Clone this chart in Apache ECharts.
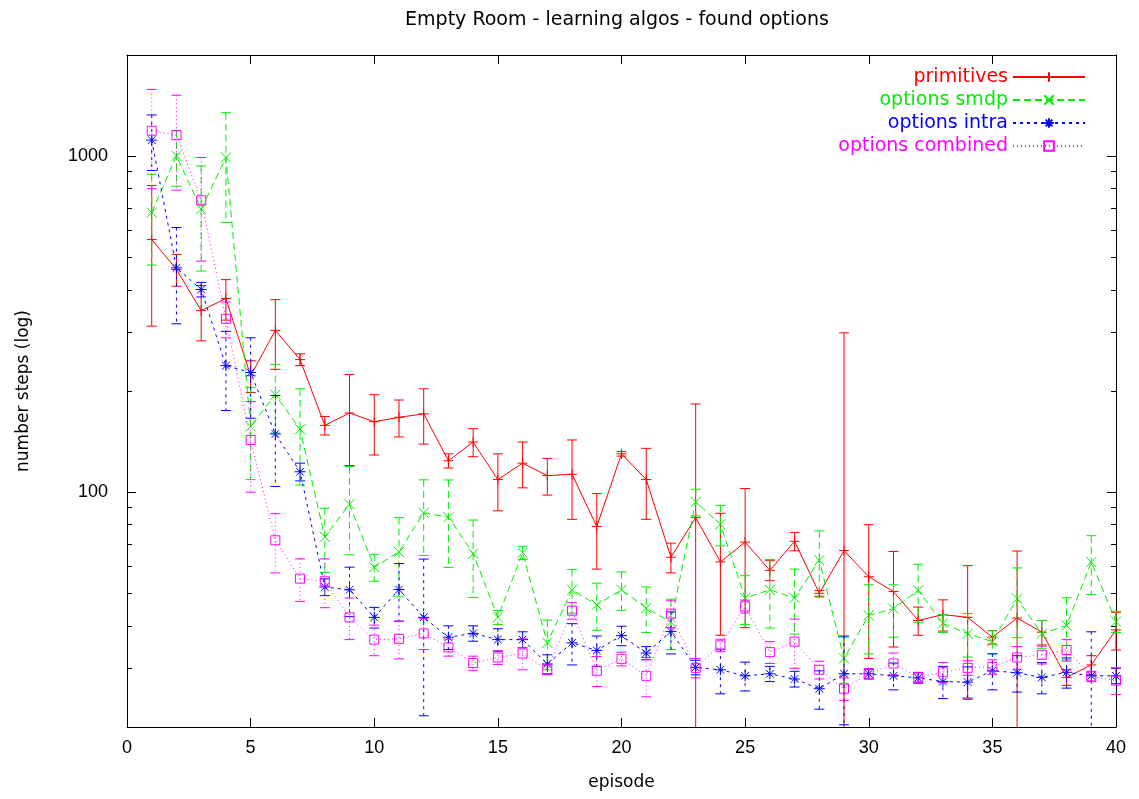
<!DOCTYPE html>
<html>
<head>
<meta charset="utf-8">
<title>Empty Room - learning algos - found options</title>
<script src="https://cdn.jsdelivr.net/npm/echarts@6/dist/echarts.min.js"></script>
<style>
  html, body { margin: 0; padding: 0; background: #fff; }
  #chart { width: 1139px; height: 799px; }
</style>
</head>
<body>
<div id="chart"></div>
<script>
  // episodes on the x axis
  const episodes = [1, 2, 3, 4, 5, 6, 7, 8, 9, 10, 11, 12, 13, 14, 15, 16, 17, 18, 19, 20,
    21, 22, 23, 24, 25, 26, 27, 28, 29, 30, 31, 32, 33, 34, 35, 36, 37, 38, 39, 40];

  // mean steps and error (+/-) per series
  const primMean = [565, 460, 347, 377, 222, 303, 248, 158, 172, 162, 167, 171, 124, 141, 109, 122, 112, 113, 79, 130,
    109, 64, 84, 62, 71, 58.5, 71.4, 50, 67, 56, 50.6, 41.5, 43.2, 42.4, 37, 42.2, 38.3, 28.1, 30.6, 38.9];
  const primErr = [253, 50, 65, 52, 24, 71, 10, 10, 52, 33, 21, 32, 6, 13.5, 21, 19, 14, 30, 20, 2,
    26, 6.5, 99, 24.5, 31.5, 4, 4.5, 1, 231, 24, 16, 4, 4.6, 18, 1.7, 24.6, 3.2, 1.5, 2, 5];

  const smdpMean = [679, 1002, 695, 991, 157, 195, 154, 73.6, 92.1, 59.8, 66.4, 86.8, 84.2, 65.6, 42.4, 66, 35.6, 51.2, 46.2, 51.2,
    45.2, 41, 93.5, 80.2, 48.4, 51.2, 48.4, 62.7, 32, 43, 45, 51, 40.7, 37.9, 35.9, 48.2, 37.9, 40.1, 61.9, 41.2];
  const smdpErr = [205, 188, 240, 356, 48, 45, 49, 16, 27, 5.5, 17.6, 22, 24.5, 17, 2, 3, 6, 7.6, 7.4, 6.7,
    7, 7, 8.5, 11, 8, 11.8, 10.6, 14, 5, 10, 8, 10, 2.5, 5.6, 2.8, 11.3, 3.6, 8.4, 12.3, 3];

  const intraMean = [1116, 465, 401, 238, 227, 149, 115, 52.2, 51.2, 42.4, 51.3, 42.4, 37, 38, 36.4, 36.4, 30.8, 35.6, 33.8, 37.4,
    33.2, 38.5, 30.1, 29.6, 28.4, 28.8, 27.8, 26, 28.8, 28.8, 28.4, 28, 27.3, 27.2, 29.4, 29, 28.1, 29.1, 28.4, 28.4];
  const intraErr = [210, 148, 20, 63, 61, 45, 7, 3, 8.6, 3, 10, 20.8, 3, 2, 2.8, 2, 2, 5, 3.5, 2.5,
    1.5, 5.5, 1.5, 4.5, 2.8, 1.5, 1.5, 3.4, 8.5, 1, 2.6, 1, 3, 3, 3.6, 3.6, 3, 3, 10, 1.5];

  const combMean = [1190, 1155, 739, 328, 143, 71.9, 55.3, 54.3, 42.4, 36.4, 36.6, 38, 34.5, 31, 32.2, 33.1, 29.6, 44.4, 29.4, 31.9,
    28.4, 43.5, 30, 35, 45.7, 33.4, 35.9, 29.6, 26, 28.8, 30.9, 28.1, 29.1, 30, 30.2, 32.2, 32.8, 33.9, 28.3, 27.5];
  const combErr = [390, 363, 252, 40, 43, 14.4, 8, 9, 6, 3.8, 4.7, 4, 2, 1.5, 1.5, 3.5, 1, 2.5, 3, 1.5,
    3.8, 4, 2, 1.5, 2, 2.5, 6, 1.8, 2, 1, 2.3, 1, 2, 1.5, 1.5, 2.5, 2, 2.5, 1, 2.5];

  // axis ticks
  const xTicks = [0, 5, 10, 15, 20, 25, 30, 35, 40];
  const yMajorTicks = [100, 1000];
  const yMinorTicks = [30, 40, 50, 60, 70, 80, 90, 200, 300, 400, 500, 600, 700, 800, 900];

  const Y_MIN = 20;
  const Y_MAX = 2000;
  const FONT = 'Liberation Sans, Arial, sans-serif';
  const WIDE_FONT = 'DejaVu Sans, sans-serif';

  const seriesDefs = [
    { name: 'primitives', mean: primMean, err: primErr, color: '#ff0000', dash: null,
      symbol: 'path://M-1,0L1,0M0,-1L0,1', size: 10, fill: 'rgba(255,0,0,0)' },
    { name: 'options smdp', mean: smdpMean, err: smdpErr, color: '#00ee00', dash: [7, 4],
      symbol: 'path://M-1,-1L1,1M-1,1L1,-1', size: 10, fill: 'rgba(0,238,0,0)' },
    { name: 'options intra', mean: intraMean, err: intraErr, color: '#0000ff', dash: [3, 4],
      symbol: 'path://M-1,0L1,0M0,-1L0,1M-0.7,-0.7L0.7,0.7M-0.7,0.7L0.7,-0.7', size: 11, fill: 'rgba(0,0,255,0)' },
    { name: 'options combined', mean: combMean, err: combErr, color: '#ff00ff', dash: [1, 3],
      symbol: 'path://M-1,-1L1,-1L1,1L-1,1Z', size: 9, fill: 'rgba(255,0,255,0)' },
  ];

  const makeErrorBar = (color, dash) => (params, api) => {
    const x = api.value(0);
    const lo = api.value(1);
    const hi = api.value(2);
    const loClamped = lo < Y_MIN;
    const top = api.coord([x, Math.min(hi, Y_MAX)]);
    const bot = api.coord([x, loClamped ? Y_MIN : lo]);
    const w = 5;
    const style = { stroke: color, lineWidth: 1, lineDash: dash || null };
    const capStyle = { stroke: color, lineWidth: 1 };
    const children = [
      { type: 'line', shape: { x1: top[0], y1: top[1], x2: bot[0], y2: bot[1] }, style },
      { type: 'line', shape: { x1: top[0] - w, y1: top[1], x2: top[0] + w, y2: top[1] }, style: capStyle },
    ];
    if (!loClamped) {
      children.push({ type: 'line', shape: { x1: bot[0] - w, y1: bot[1], x2: bot[0] + w, y2: bot[1] }, style: capStyle });
    }
    return { type: 'group', children };
  };

  const series = [];
  seriesDefs.forEach((s, i) => {
    series.push({
      name: s.name + ' err',
      type: 'custom',
      xAxisIndex: 0,
      yAxisIndex: 0,
      z: 2 + i * 2,
      silent: true,
      renderItem: makeErrorBar(s.color, s.dash),
      data: episodes.map((x, k) => [x, s.mean[k] - s.err[k], s.mean[k] + s.err[k]]),
    });
    series.push({
      name: s.name,
      type: 'line',
      xAxisIndex: 0,
      yAxisIndex: 0,
      z: 3 + i * 2,
      symbol: s.symbol,
      symbolSize: s.size,
      showAllSymbol: true,
      lineStyle: { color: s.color, width: 1, type: s.dash || 'solid' },
      itemStyle: { color: s.fill, borderColor: s.color, borderWidth: 1 },
      data: episodes.map((x, k) => [x, s.mean[k]]),
    });
  });

  const axisLine = { show: true, lineStyle: { color: '#000', width: 1 } };
  const labelStyle = { color: '#000', fontSize: 18, fontFamily: FONT };
  const nameStyle = { color: '#000', fontSize: 17, fontFamily: WIDE_FONT };

  const option = {
    backgroundColor: '#fff',
    animation: false,
    title: {
      text: 'Empty Room - learning algos - found options',
      left: 617,
      textAlign: 'center',
      top: 11,
      padding: 0,
      textStyle: { color: '#000', fontSize: 19, fontWeight: 'normal', fontFamily: WIDE_FONT },
    },
    legend: {
      orient: 'vertical',
      right: 53,
      top: 67,
      padding: 0,
      align: 'right',
      itemWidth: 72,
      itemHeight: 12,
      itemGap: 3,
      selectedMode: false,
      textStyle: { fontSize: 19, fontFamily: WIDE_FONT, lineHeight: 20 },
      data: seriesDefs.map(s => ({ name: s.name, textStyle: { color: s.color } })),
    },
    grid: { left: 127, right: 23, top: 55, bottom: 72, containLabel: false },
    xAxis: [
      {
        type: 'value', min: 0, max: 40, interval: 5, position: 'bottom',
        axisLine,
        axisTick: { inside: true, length: 9, lineStyle: { color: '#000' } },
        axisLabel: Object.assign({ margin: 12, customValues: xTicks }, labelStyle),
        splitLine: { show: false },
        name: 'episode', nameLocation: 'middle', nameGap: 47,
        nameTextStyle: nameStyle,
      },
      {
        type: 'value', min: 0, max: 40, interval: 5, position: 'top',
        axisLine,
        axisTick: { inside: true, length: 9, lineStyle: { color: '#000' } },
        axisLabel: { show: false },
        splitLine: { show: false },
      },
    ],
    yAxis: [
      {
        type: 'log', logBase: 10, min: Y_MIN, max: Y_MAX, position: 'left',
        axisLine,
        axisTick: { inside: true, length: 9, customValues: yMajorTicks, lineStyle: { color: '#000' } },
        axisLabel: Object.assign({ margin: 19, customValues: yMajorTicks, formatter: v => String(v) }, labelStyle),
        splitLine: { show: false },
        name: 'number steps (log)', nameLocation: 'middle', nameGap: 95, nameRotate: 90,
        nameTextStyle: nameStyle,
      },
      {
        type: 'log', logBase: 10, min: Y_MIN, max: Y_MAX, position: 'left',
        axisLine: { show: false },
        axisTick: { inside: true, length: 5, customValues: yMinorTicks, lineStyle: { color: '#000' } },
        axisLabel: { show: false },
        splitLine: { show: false },
      },
      {
        type: 'log', logBase: 10, min: Y_MIN, max: Y_MAX, position: 'right',
        axisLine,
        axisTick: { inside: true, length: 9, customValues: yMajorTicks, lineStyle: { color: '#000' } },
        axisLabel: { show: false },
        splitLine: { show: false },
      },
      {
        type: 'log', logBase: 10, min: Y_MIN, max: Y_MAX, position: 'right',
        axisLine: { show: false },
        axisTick: { inside: true, length: 5, customValues: yMinorTicks, lineStyle: { color: '#000' } },
        axisLabel: { show: false },
        splitLine: { show: false },
      },
    ],
    series,
  };

  const myChart = echarts.init(document.getElementById('chart'));
  myChart.setOption(option);
</script>
</body>
</html>
